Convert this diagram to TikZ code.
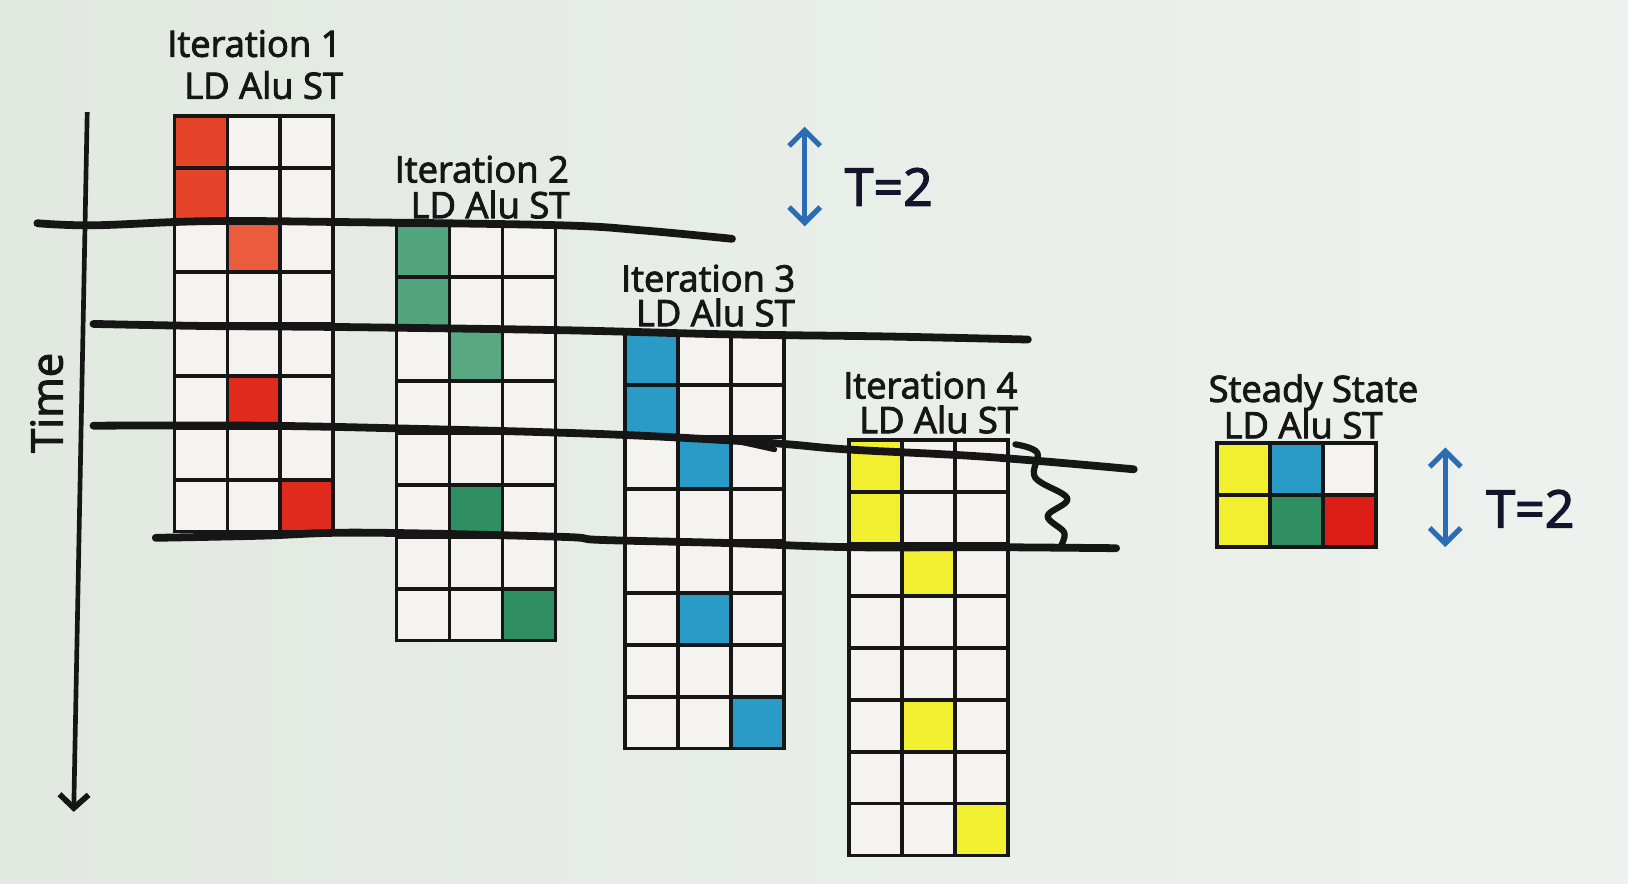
\documentclass[tikz,border=0pt]{standalone}
\usepackage{fontspec}
\setmainfont{Open Sans}
\newfontfamily\lblfont{Open Sans}[FakeBold=2.5]
\usetikzlibrary{arrows.meta}
\definecolor{bgl}{HTML}{E2E9E1}
\definecolor{bgr}{HTML}{EEF2EE}
\definecolor{cellw}{HTML}{F4F3F0}
\definecolor{inkc}{HTML}{161616}
\definecolor{tblue}{HTML}{2A6DB5}
\definecolor{redA}{HTML}{E5432A}
\definecolor{redB}{HTML}{EA5C3C}
\definecolor{redC}{HTML}{E02A1E}
\definecolor{greenA}{HTML}{52A47D}
\definecolor{greenB}{HTML}{5AA883}
\definecolor{greenC}{HTML}{2F8F62}
\definecolor{blueA}{HTML}{2A9AC6}
\definecolor{yelA}{HTML}{F2EE30}
\definecolor{ssred}{HTML}{DD1E16}
\begin{document}
\begin{tikzpicture}[x=1pt,y=-1pt,
  cell/.style={draw=inkc, line width=3.6pt, fill=cellw, minimum width=51pt, minimum height=50pt, inner sep=0pt, outer sep=0pt, anchor=north west},
  lbl/.style={font=\lblfont\fontsize{35}{40}\selectfont, text=inkc, inner sep=0pt},
  tlbl/.style={font=\lblfont\fontsize{50}{56}\selectfont, text=inkc!90!blue, inner sep=0pt},
  hand/.style={draw=inkc, line width=7.5pt, line cap=round, line join=round},
  tarrow/.style={draw=tblue, line width=5pt, {Straight Barb[length=15pt,width=30pt,line width=5pt]}-{Straight Barb[length=15pt,width=30pt,line width=5pt]}},
  timearrow/.style={draw=inkc, line width=4.5pt, -{Straight Barb[length=13pt,width=28pt,line width=5.5pt]}}]
\useasboundingbox (0,0) rectangle (1568,851);
\shade[left color=bgl, right color=bgr] (0,0) rectangle (1568,851);

% grids
\foreach \g/\ox/\oy/\cLD/\cAa/\cAb/\cST in {1/168/112/redA/redB/redC/redC, 2/382/217/greenA/greenB/greenC/greenC, 3/602/321/blueA/blueA/blueA/blueA, 4/818/424/yelA/yelA/yelA/yelA}{
  \foreach \r in {0,...,7}{
    \foreach \k in {0,1,2}{
      \pgfmathtruncatemacro\code{\r*10+\k}
      \def\fc{cellw}
      \ifnum\code=0 \def\fc{\cLD}\fi
      \ifnum\code=10 \def\fc{\cLD}\fi
      \ifnum\code=21 \def\fc{\cAa}\fi
      \ifnum\code=51 \def\fc{\cAb}\fi
      \ifnum\code=72 \def\fc{\cST}\fi
      \node[cell, fill=\fc] (g\g-\r-\k) at ({\ox+\k*51},{\oy+\r*50}) {};
    }
  }
}

% steady state
\node[cell, fill=yelA] (s-0-0) at (1172,427) {};
\node[cell, fill=blueA] (s-0-1) at (1223,427) {};
\node[cell, fill=cellw] (s-0-2) at (1274,427) {};
\node[cell, fill=yelA] (s-1-0) at (1172,477) {};
\node[cell, fill=greenC] (s-1-1) at (1223,477) {};
\node[cell, fill=ssred] (s-1-2) at (1274,477) {};

% labels
\node[lbl] (it1) at (245,42) {Iteration 1};
\node[lbl] (ld1) at (254,82) {LD Alu ST};
\node[lbl] (it2) at (464,163) {Iteration 2};
\node[lbl] (ld2) at (472,197) {LD Alu ST};
\node[lbl] (it3) at (682,268) {Iteration 3};
\node[lbl] (ld3) at (689,301) {LD Alu ST};
\node[lbl] (it4) at (896,371) {Iteration 4};
\node[lbl] (ld4) at (904,404) {LD Alu ST};
\node[lbl] (its) at (1265,378) {Steady State};
\node[lbl] (lds) at (1255,409) {LD Alu ST};

% hand-drawn stage lines
\draw[hand] plot[smooth, tension=0.6] coordinates {(36,215) (90,217) (200,213) (340,214) (540,217) (620,222) (705,230)};
\draw[hand] plot[smooth, tension=0.6] coordinates {(90,312) (200,314) (330,315) (540,318) (700,322) (850,324) (990,327)};
\draw[hand] plot[smooth, tension=0.6] coordinates {(90,410) (250,410) (400,413) (578,418) (700,424) (760,428) (818,433) (950,440) (1092,452)};
\draw[hand, line width=5pt] (705,424) -- (746,433);
\draw[hand] plot[smooth, tension=0.6] coordinates {(150,518) (250,516) (347,513) (539,517) (578,520) (700,523) (818,527) (950,527) (1075,528)};
\draw[hand, line width=6pt] plot[smooth, tension=0.6] coordinates {(978,428) (999,436) (997,460) (1028,480) (1009,497) (1025,513) (1021,527)};

% time axis
\coordinate (tTop) at (84,108);
\coordinate (tBot) at (71,782);
\draw[timearrow] (tTop) -- (tBot);
\node[font=\lblfont\fontsize{42}{46}\selectfont, text=inkc, rotate=90, inner sep=0pt] (time) at (45,388) {Time};

% T=2 markers
\coordinate (a1t) at (775,122);
\coordinate (a1b) at (775,218);
\draw[tarrow] (a1t) -- (a1b);
\node[tlbl] (t1) at (856,180) {T=2};
\coordinate (a2t) at (1392,431);
\coordinate (a2b) at (1392,527);
\draw[tarrow] (a2t) -- (a2b);
\node[tlbl] (t2) at (1474,490) {T=2};
\end{tikzpicture}
\end{document}
